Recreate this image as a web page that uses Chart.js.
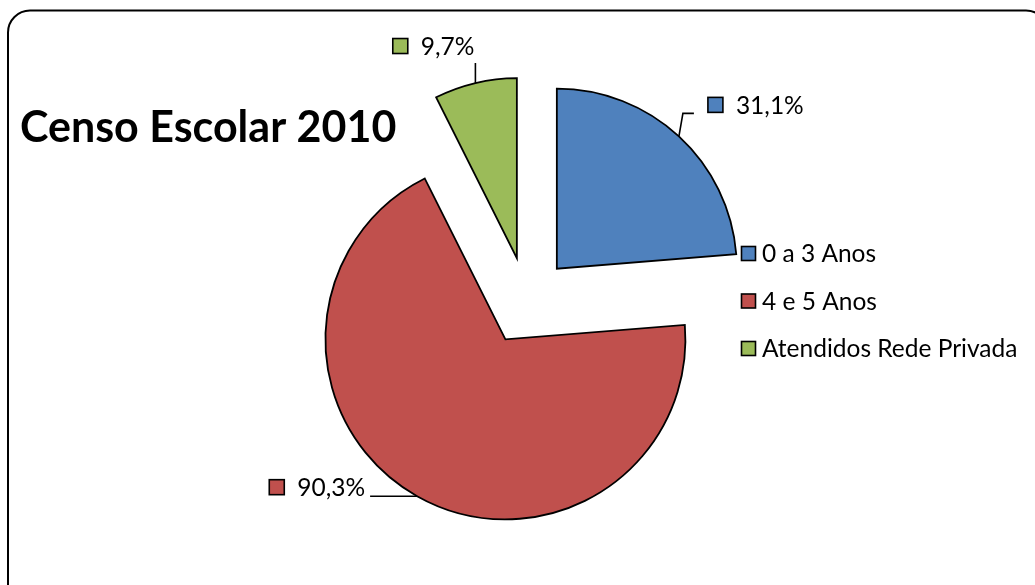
<!DOCTYPE html>
<html>
<head>
<meta charset="utf-8">
<title>Censo Escolar 2010</title>
<script src="https://cdn.jsdelivr.net/npm/chart.js@4.4.1/dist/chart.umd.min.js"></script>
<style>
    html, body { margin: 0; padding: 0; background: #fff; }
    .chart-box { position: relative; width: 1035px; height: 585px; }
</style>
</head>
<body>
<div class="chart-box">
    <canvas id="chart-censo"></canvas>
</div>
<script>
// Data
var chartTitle = 'Censo Escolar 2010'
var categories = ['0 a 3 Anos', '4 e 5 Anos', 'Atendidos Rede Privada']
var percentValues = [31.1, 90.3, 9.7]

// Styles
var sliceColors = ['#4F81BD', '#C0504D', '#9BBB59']
var labelFont = '24.5px Lato'
var titleFont = 'bold 43px Lato'
var explodeDistance = 44

// leader line bends (relative to the slice edge) and where the label sits
var leaders = [
    { path: [[4, -23], [15, -23]], side: 'right', dx: 14, dy: -8.5 },
    { path: [[-47, 0]], side: 'left', dx: -5, dy: -9 },
    { path: [[0, -20]], side: 'left', dx: -1, dy: -17 }
]

function formatPercent(v) {
    return v.toFixed(1).replace('.', ',') + '%'
}

function drawMarker(ctx, x, y, size, color) {
    ctx.fillStyle = color
    ctx.fillRect(x, y, size, size)
    ctx.strokeStyle = '#000'
    ctx.lineWidth = 1.6
    ctx.strokeRect(x, y, size, size)
}

// pull every slice out from the centre, along its middle angle
var explodePlugin = {
    id: 'explode',
    afterDatasetUpdate: function(chart, args) {
        args.meta.data.forEach(function(arc) {
            var mid = (arc.startAngle + arc.endAngle) / 2
            arc.x += Math.cos(mid) * explodeDistance
            arc.y += Math.sin(mid) * explodeDistance
        })
    }
}

var decorPlugin = {
    id: 'decor',
    afterDraw: function(chart) {
        var ctx = chart.ctx
        ctx.save()

        // frame
        ctx.beginPath()
        ctx.roundRect(8, 10.5, 1040, 600, 22)
        ctx.strokeStyle = '#000'
        ctx.lineWidth = 2
        ctx.stroke()

        // title
        ctx.fillStyle = '#000'
        ctx.font = titleFont
        ctx.textBaseline = 'alphabetic'
        ctx.textAlign = 'left'
        ctx.fillText(chartTitle, 20, 142)

        // legend
        ctx.font = labelFont
        ctx.textBaseline = 'middle'
        categories.forEach(function(name, i) {
            var cy = 253.5 + i * 47.5
            drawMarker(ctx, 741.5, cy - 7, 14, sliceColors[i])
            ctx.fillStyle = '#000'
            ctx.fillText(name, 762, cy + 1)
        })

        // data labels with leader lines
        var arcs = chart.getDatasetMeta(0).data
        arcs.forEach(function(arc, i) {
            var mid = (arc.startAngle + arc.endAngle) / 2
            var px = arc.x + Math.cos(mid) * arc.outerRadius
            var py = arc.y + Math.sin(mid) * arc.outerRadius
            var lead = leaders[i]
            ctx.beginPath()
            ctx.moveTo(px, py)
            var ex = px, ey = py
            lead.path.forEach(function(p) {
                ex = px + p[0]
                ey = py + p[1]
                ctx.lineTo(ex, ey)
            })
            ctx.strokeStyle = '#000'
            ctx.lineWidth = 1.6
            ctx.stroke()

            var text = formatPercent(percentValues[i])
            var tw = ctx.measureText(text).width
            var size = 15, gap = 13
            var left = lead.side === 'right' ? ex + lead.dx : ex + lead.dx - tw - gap - size
            var cy = ey + lead.dy
            drawMarker(ctx, left, cy - size / 2, size, sliceColors[i])
            ctx.fillStyle = '#000'
            ctx.textAlign = 'left'
            ctx.fillText(text, left + size + gap, cy + 1)
        })
        ctx.restore()
    }
}

var pieCanvas = document.getElementById('chart-censo').getContext('2d')

new Chart(pieCanvas, {
    type: 'pie',
    data: {
        labels: categories,
        datasets: [{
            data: percentValues,
            backgroundColor: sliceColors,
            borderColor: '#000',
            borderWidth: 1.8,
            borderJoinStyle: 'miter',
            radius: 180
        }]
    },
    options: {
        responsive: true,
        maintainAspectRatio: false,
        animation: false,
        events: [],
        layout: {
            padding: { left: 119, right: 100, top: 37, bottom: 20 }
        },
        plugins: {
            legend: { display: false },
            title: { display: false },
            tooltip: { enabled: false }
        }
    },
    plugins: [explodePlugin, decorPlugin]
})
</script>
</body>
</html>
